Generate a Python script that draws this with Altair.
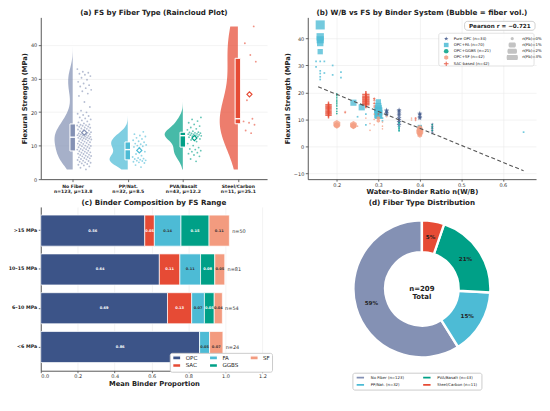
import json
import altair as alt
import pandas as pd

FONT = "DejaVu Sans"
DARK = "#222222"
AXC = "#444444"
GRID = "#ebebeb"

W_A, W_B = 228, 230
H_TOP, H_BOT = 163, 165

# ---------------- (a) raincloud data ----------------
fiber_types = ["No Fiber", "PP/Nat.", "PVA/Basalt", "Steel/Carbon"]
fiber_colors = ["#8491B4", "#4DBBD5", "#00A087", "#E64B35"]
fiber_n = [123, 32, 43, 11]
fiber_mu = [13.8, 8.5, 12.2, 25.1]

fs_no_fiber = [
    2.9, 3.4, 3.8, 4.1, 4.3, 4.5, 4.7, 4.9, 5.0, 5.2, 5.4, 5.5, 5.7, 5.9, 6.0, 6.2,
    6.3, 6.5, 6.6, 6.8, 6.9, 7.0, 7.2, 7.3, 7.5, 7.6, 7.8, 7.9, 8.0, 8.2, 8.3,
    8.5, 8.6, 8.8, 8.9, 9.0, 9.2, 9.3, 9.5, 9.6, 9.8, 9.9, 10.0, 10.2, 10.3, 10.5,
    10.6, 10.8, 10.9, 11.0, 11.2, 11.3, 11.5, 11.6, 11.8, 11.9, 12.0, 12.1, 12.2,
    12.3, 12.4, 12.5,
    12.6, 12.7, 12.8, 12.9, 13.0, 13.1, 13.2, 13.3, 13.4, 13.5, 13.6, 13.8, 13.9,
    14.0, 14.2, 14.3, 14.5, 14.6, 14.8, 15.0, 15.1, 15.3, 15.4, 15.6, 15.7, 15.9,
    16.0, 16.1, 16.2, 16.3,
    16.6, 16.9, 17.2, 17.5, 17.8, 18.1, 18.4, 18.8, 19.1, 19.5, 19.9, 20.4, 21.5,
    23.0, 24.8, 25.5, 26.2, 26.6, 27.1, 27.6, 28.0, 28.5, 29.0, 29.6, 30.2, 30.7,
    31.1, 31.4, 31.7, 32.0, 32.8,
]
fs_pp = [
    3.6, 4.2, 4.8, 5.0, 5.2, 5.4, 5.5, 5.6, 5.8, 6.0, 6.1, 6.3, 6.6, 7.0, 7.5, 8.2,
    9.4, 9.6, 9.8, 10.0, 10.2, 10.4, 10.6, 11.0, 11.3, 11.6, 12.0, 12.3, 12.7,
    13.0, 13.4, 14.1,
]
fs_pva = [
    5.3, 6.0, 6.8, 7.2, 7.6, 7.9, 8.2, 8.5, 8.8, 9.0,
    9.4, 10.0, 10.6, 11.2, 11.7, 12.0, 12.3, 12.5, 12.7, 12.8, 12.9,
    13.0, 13.1, 13.2, 13.3, 13.4, 13.5, 13.6, 13.7, 13.8, 13.9, 14.0,
    14.3, 14.7, 15.0, 15.4, 15.8, 16.3, 16.8, 17.3, 17.8, 18.4,
]
fs_steel = [13.7, 14.5, 16.2, 16.8, 17.2, 18.0, 23.5, 35.0, 37.0, 40.5, 45.5]

rows_a = []
for i, (name, vals) in enumerate(zip(fiber_types, [fs_no_fiber, fs_pp, fs_pva, fs_steel])):
    for v in vals:
        rows_a.append({"fiber": name, "pos": i, "fs": v})
df_a = pd.DataFrame(rows_a)

labels_a = [[t, f"n={n},  \u03bc={m}"] for t, n, m in zip(fiber_types, fiber_n, fiber_mu)]
label_expr_a = json.dumps(labels_a, ensure_ascii=False) + "[round(datum.value)]"

xs_a = alt.Scale(domain=[-0.58, 3.53], nice=False, zero=False)
axis_xa = alt.Axis(values=[0, 1, 2, 3], labelExpr=label_expr_a, grid=False,
                   labelFontWeight="bold", labelFontSize=4.6, labelColor=DARK,
                   labelLineHeight=5.8, labelPadding=1.5)
ys_a = alt.Scale(domain=[0, 48.2], nice=False, zero=False)
axis_ya = alt.Axis(values=[0, 10, 20, 30, 40], grid=True)
YT_A = "Flexural Strength (MPa)"


def xa(f):
    return alt.X(f"{f}:Q", scale=xs_a, axis=axis_xa, title=None)


def ya(f):
    return alt.Y(f"{f}:Q", scale=ys_a, axis=axis_ya, title=YT_A)


color_a = alt.Color("fiber:N", scale=alt.Scale(domain=fiber_types, range=fiber_colors), legend=None)
base_a = alt.Chart(df_a)

violin = base_a.transform_density(
    "fs", as_=["fs", "dens"], groupby=["fiber", "pos"], steps=120
).transform_joinaggregate(
    maxd="max(dens)", groupby=["fiber"]
).transform_calculate(
    xl="datum.pos - 0.33 * datum.dens / datum.maxd"
).mark_area(orient="horizontal", opacity=0.72).encode(
    y=ya("fs"), x=xa("xl"), x2="pos:Q", color=color_a, detail="fiber:N"
)

pts = base_a.transform_window(
    rn="row_number()", groupby=["fiber"]
).transform_calculate(
    jx="datum.pos + 0.08 + 0.26 * ((datum.rn * 0.618034) % 1)"
).mark_circle(size=3.5, opacity=0.6).encode(x=xa("jx"), y=ya("fs"), color=color_a)

stats = base_a.transform_aggregate(
    q1="q1(fs)", q3="q3(fs)", med="median(fs)", mean="mean(fs)", groupby=["fiber", "pos"]
).transform_calculate(
    bx1="datum.pos - 0.05", bx2="datum.pos + 0.05", mx="datum.pos + 0.21"
)
box = stats.mark_rect(stroke="white", strokeWidth=1).encode(
    x=xa("bx1"), x2="bx2:Q", y=ya("q1"), y2="q3:Q", color=color_a
)
med = stats.mark_rule(color="white", strokeWidth=1.4).encode(
    x=xa("bx1"), x2="bx2:Q", y=ya("med")
)
mean = stats.mark_point(shape="diamond", filled=False, fill="white", fillOpacity=1,
                        size=26, strokeWidth=1.2, opacity=1).encode(
    x=xa("mx"), y=ya("mean"), color=color_a
)

panel_a = alt.layer(violin, pts, box, med, mean).properties(
    width=W_A, height=H_TOP, title="(a) FS by Fiber Type  (Raincloud Plot)"
)

# ---------------- (b) scatter data ----------------
systems = ["Pure OPC", "OPC+FA", "OPC+GGBS", "OPC+SF", "SAC-based"]
system_n = [34, 70, 21, 42, 42]
system_colors = ["#3C5488", "#4DBBD5", "#00A087", "#F39B7F", "#E64B35"]
STAR = ("M0,-1L0.2245,-0.309L0.951,-0.309L0.363,0.118L0.588,0.809L0,0.382"
        "L-0.588,0.809L-0.363,0.118L-0.951,-0.309L-0.2245,-0.309Z")
HEX = "M0,-1L0.866,-0.5L0.866,0.5L0,1L-0.866,0.5L-0.866,-0.5Z"
PLUS = "M-1,-0.22H-0.22V-1H0.22V-0.22H1V0.22H0.22V1H-0.22V0.22H-1Z"
system_shapes = [STAR, "square", "circle", HEX, PLUS]

opc_wb = [0.32, 0.32, 0.32, 0.32, 0.35, 0.35, 0.35, 0.35, 0.35, 0.35, 0.35, 0.35,
          0.40, 0.40, 0.40, 0.40, 0.43, 0.43, 0.43, 0.43, 0.43]
opc_fs = [11.8, 12.4, 13.0, 13.4, 8.0, 9.0, 9.8, 10.5, 11.5, 12.2, 13.0, 13.5,
          10.5, 11.0, 11.8, 12.2, 5.0, 5.8, 6.6, 7.4, 8.2]
opc_vol = [0.8] * 12 + [0.8] * 4 + [0.3] * 5

fa_wb = [0.16, 0.16, 0.16, 0.16, 0.16,
         0.15, 0.15, 0.16, 0.16, 0.16, 0.16, 0.16, 0.17, 0.17, 0.19, 0.19, 0.21, 0.21,
         0.24, 0.26, 0.30, 0.30, 0.30, 0.30, 0.30, 0.30, 0.40,
         0.35, 0.35, 0.35, 0.35, 0.27, 0.27, 0.25, 0.31, 0.31, 0.65]
fa_fs = [45.0, 40.6, 39.5, 38.3, 35.1,
         31.5, 29.5, 31.5, 28.0, 27.0, 25.8, 24.8, 31.5, 27.2, 30.0, 26.5, 27.5, 25.5,
         16.2, 14.5, 16.5, 15.0, 14.0, 13.0, 12.0, 11.5, 7.2,
         6.0, 6.8, 7.5, 8.5, 8.0, 12.0, 11.0, 9.5, 10.5, 5.3]
fa_vol = [2.5, 1.6, 1.5, 1.2, 0.8,
          0, 0, 0, 0, 0, 0, 0, 0, 0, 0, 0, 0, 0,
          1.1, 1.1, 0.8, 1.1, 1.5, 2.0, 2.0, 1.5, 0.5,
          0, 0, 0, 0, 0, 0, 0, 0, 0, 0]

gg_wb = [0.20] * 10 + [0.35] * 4 + [0.43] * 3
gg_fs = [12.2, 13.0, 14.0, 15.0, 15.8, 16.5, 17.2, 18.0, 18.8, 19.5,
         5.8, 6.5, 7.2, 8.8, 6.0, 7.0, 8.0]
gg_vol = [0] * 17

sf_wb = [0.20, 0.20, 0.24, 0.24, 0.40, 0.40, 0.40,
         0.22, 0.25, 0.27, 0.28, 0.28, 0.29, 0.29, 0.29, 0.29, 0.29, 0.29,
         0.31, 0.31, 0.31, 0.38, 0.38, 0.32, 0.30, 0.30, 0.40, 0.40]
sf_fs = [8.3, 7.8, 8.0, 7.6, 5.5, 6.2, 4.8,
         12.5, 7.5, 10.5, 6.0, 8.5, 17.5, 16.0, 14.5, 12.0, 10.0, 8.0,
         9.0, 7.5, 6.5, 10.5, 9.8, 11.0, 9.5, 10.5, 4.2, 7.0]
sf_vol = [1.9, 1.3, 1.8, 1.2, 1.9, 1.4, 1.0,
          0, 0, 0, 0, 0, 0, 0, 0, 0, 0, 0,
          0, 0, 0, 0, 0, 0, 0.4, 0.4, 0.8, 0.8]

sac_wb = [0.18] * 9 + [0.27] * 8 + [0.29] * 4 + [0.22, 0.39, 0.39, 0.30]
sac_fs = [11.5, 12.0, 12.5, 13.0, 13.5, 14.0, 14.5, 15.0, 15.5,
          15.5, 16.0, 16.5, 17.0, 17.5, 18.0, 18.5, 19.2,
          15.0, 16.0, 17.0, 17.8, 12.8, 10.5, 9.8, 12.0]
sac_vol = [1.2] * 9 + [1.6] * 8 + [0.1] * 4 + [0.1, 0.1, 0.1, 0.1]

trend_wb = [0.155, 0.65]
trend_fs = [22.1, -9.0]
pearson_r = -0.721

rows_b = []
for name, wbs, fss, vols in zip(
    systems,
    [opc_wb, fa_wb, gg_wb, sf_wb, sac_wb],
    [opc_fs, fa_fs, gg_fs, sf_fs, sac_fs],
    [opc_vol, fa_vol, gg_vol, sf_vol, sac_vol],
):
    for w, f, v in zip(wbs, fss, vols):
        rows_b.append({"system": name, "wb": w, "fs": f, "vol": v})
df_b = pd.DataFrame(rows_b)
df_trend = pd.DataFrame({"wb": trend_wb, "fs": trend_fs})

xs_b = alt.Scale(domain=[0.13, 0.68], nice=False, zero=False)
ys_b = alt.Scale(domain=[-12.1, 47.8], nice=False, zero=False)
axis_xb = alt.Axis(values=[0.2, 0.3, 0.4, 0.5, 0.6], format=".1f", grid=True,
                   labelPadding=1, titlePadding=1.5, tickSize=2)
axis_yb = alt.Axis(values=[-10, 0, 10, 20, 30, 40], grid=True)
XT_B = "Water-to-Binder Ratio  n(W/B)"


def xb(f):
    return alt.X(f"{f}:Q", scale=xs_b, axis=axis_xb, title=XT_B)


def yb(f):
    return alt.Y(f"{f}:Q", scale=ys_b, axis=axis_yb, title=YT_A)


LX = W_B - 98
sys_labels = [f"{s}  (n={n})" for s, n in zip(systems, system_n)]
sys_expr = (json.dumps(sys_labels) + "[indexof(" + json.dumps(systems) + ", datum.label)]")
leg_sys = alt.Legend(title=None, orient="none", legendX=LX + 4, legendY=19, labelExpr=sys_expr,
                     labelFontSize=3.9, symbolSize=22, rowPadding=1.3, clipHeight=5,
                     symbolOpacity=0.85, labelColor=DARK, labelLimit=200, padding=0,
                     labelOffset=4)
leg_size = alt.Legend(title=None, orient="none", legendX=LX + 68, legendY=19, values=[0, 1, 2, 3],
                      labelExpr="'n(Fb)=' + datum.value + '%'", symbolType="circle",
                      symbolFillColor="#b5b5b5", symbolStrokeColor="#b5b5b5",
                      symbolOpacity=0.8, labelFontSize=3.9, rowPadding=1.3, clipHeight=5,
                      labelColor=DARK, padding=0, labelOffset=4)

pts_b = alt.Chart(df_b).mark_point(filled=True, opacity=0.78).encode(
    x=xb("wb"), y=yb("fs"),
    color=alt.Color("system:N", scale=alt.Scale(domain=systems, range=system_colors), legend=leg_sys),
    shape=alt.Shape("system:N", scale=alt.Scale(domain=systems, range=system_shapes), legend=leg_sys),
    size=alt.Size("vol:Q", scale=alt.Scale(domain=[0, 3], range=[3, 100]), legend=leg_size),
)
trend = alt.Chart(df_trend).mark_line(color="#555555", strokeDash=[4, 2.5], strokeWidth=1.1).encode(
    x=xb("wb"), y=yb("fs")
)
one = pd.DataFrame({"k": [0]})
leg_box = alt.Chart(one).mark_rect(fill="white", stroke="#cccccc", strokeWidth=0.6,
                                   cornerRadius=2, opacity=0.92).encode(
    x=alt.value(LX), x2=alt.value(W_B - 2), y=alt.value(16), y2=alt.value(49)
)
r_box = alt.Chart(one).mark_rect(fill="white", stroke="#bbbbbb", strokeWidth=0.7,
                                 cornerRadius=3).encode(
    x=alt.value(W_B - 72), x2=alt.value(W_B - 1), y=alt.value(4), y2=alt.value(13)
)
r_text = alt.Chart(one).transform_calculate(
    t=f"'Pearson  r = ' + '\u2212' + '{abs(pearson_r):.3f}'"
).mark_text(fontSize=5.7, fontWeight="bold", color=DARK).encode(
    x=alt.value(W_B - 36.5), y=alt.value(8.7), text="t:N"
)

panel_b = alt.layer(pts_b, trend, leg_box, r_box, r_text).properties(
    width=W_B, height=H_TOP, title="(b) W/B vs FS by Binder System  (Bubble = fiber vol.)"
)

# ---------------- (c) stacked bar data ----------------
fs_ranges = [">15 MPa", "10\u201315 MPa", "6\u201310 MPa", "<6 MPa"]
range_n = [50, 81, 54, 24]
components = ["OPC", "SAC", "FA", "GGBS", "SF"]
comp_colors = ["#3C5488", "#E64B35", "#4DBBD5", "#00A087", "#F39B7F"]
opc_p = [0.563, 0.642, 0.686, 0.860]
sac_p = [0.052, 0.111, 0.131, 0.0]
fa_p = [0.144, 0.112, 0.069, 0.054]
ggbs_p = [0.152, 0.077, 0.053, 0.0]
sf_p = [0.110, 0.054, 0.044, 0.072]

rows_c = []
for k, comp, vals in zip(range(5), components, [opc_p, sac_p, fa_p, ggbs_p, sf_p]):
    for r, n, v in zip(fs_ranges, range_n, vals):
        rows_c.append({"range": r, "n": n, "comp": comp, "ord": k, "value": v})
df_c = pd.DataFrame(rows_c)

yc = alt.Y("range:N", sort=fs_ranges, title=None,
           scale=alt.Scale(paddingInner=0.2, paddingOuter=0.21),
           axis=alt.Axis(labelFontWeight="bold", labelFontSize=4.8, labelColor=DARK))
xs_c = alt.Scale(domain=[0, 1.225], nice=False, zero=False)
axis_xc = alt.Axis(values=[0, 0.2, 0.4, 0.6, 0.8, 1.0, 1.2], format=".1f", grid=True,
                   labelPadding=1, titlePadding=1.5, tickSize=2)
XT_C = "Mean Binder Proportion"
leg_c = alt.Legend(title=None, orient="none", legendX=W_A - 98, legendY=H_BOT - 18, columns=3,
                   symbolType="M-1,-0.5L1,-0.5L1,0.5L-1,0.5Z", symbolSize=70,
                   labelFontSize=5.6, labelColor=DARK, fillColor="white", strokeColor="#cccccc",
                   padding=2, cornerRadius=2, columnPadding=11, rowPadding=1,
                   clipHeight=5.5, symbolOpacity=1)

stacked = alt.Chart(df_c).transform_stack(
    stack="value", groupby=["range"], as_=["x0", "x1"], sort=[alt.SortField("ord")]
)
bars = stacked.mark_bar(stroke="white", strokeWidth=0.7).encode(
    y=yc, x=alt.X("x0:Q", scale=xs_c, axis=axis_xc, title=XT_C), x2="x1:Q",
    color=alt.Color("comp:N", scale=alt.Scale(domain=components, range=comp_colors),
                    legend=leg_c),
)
seg_text = stacked.transform_filter("datum.value > 0").transform_calculate(
    mid="(datum.x0 + datum.x1) / 2"
).mark_text(fontSize=3.6, fontWeight="bold").encode(
    y=yc, x=alt.X("mid:Q", scale=xs_c, axis=axis_xc, title=XT_C),
    text=alt.Text("value:Q", format=".2f"),
    color=alt.condition("datum.comp == 'FA' || datum.comp == 'SF'",
                        alt.value("#333333"), alt.value("white")),
)
n_text = alt.Chart(df_c).transform_aggregate(
    total="sum(value)", groupby=["range", "n"]
).transform_calculate(
    lx="datum.total + 0.015", lab="'n=' + datum.n"
).mark_text(align="left", fontSize=5, color="#333333").encode(
    y=yc, x=alt.X("lx:Q", scale=xs_c, axis=axis_xc, title=XT_C), text="lab:N"
)

panel_c = alt.layer(bars, seg_text, n_text).properties(
    width=W_A, height=H_BOT, title="(c) Binder Composition by FS Range"
)

# ---------------- (d) donut data ----------------
pie_order = [3, 2, 1, 0]  # drawing order clockwise from 12 o'clock
df_d = pd.DataFrame({"fiber": fiber_types, "count": fiber_n, "ord": pie_order})
d_labels = [f"{t}  (n={n})" for t, n in zip(fiber_types, fiber_n)]
d_expr = json.dumps(d_labels) + "[indexof(" + json.dumps(fiber_types) + ", datum.label)]"
leg_d = alt.Legend(title=None, orient="none", legendX=W_B / 2 - 70, legendY=H_BOT + 2, columns=2,
                   symbolType="M-1,-0.38L1,-0.38L1,0.38L-1,0.38Z", symbolSize=80,
                   labelExpr=d_expr, labelFontSize=3.9, labelColor=DARK, fillColor="white",
                   strokeColor="#cccccc", padding=2.5, cornerRadius=2, columnPadding=16,
                   rowPadding=2.5, clipHeight=4.5, labelLimit=200, labelOffset=5)

base_d = alt.Chart(df_d)
theta_d = alt.Theta("count:Q", stack=True)
arcs = base_d.mark_arc(innerRadius=37, outerRadius=69, stroke="white", strokeWidth=2.4).encode(
    theta=theta_d, order=alt.Order("ord:Q"),
    color=alt.Color("fiber:N", scale=alt.Scale(domain=fiber_types, range=fiber_colors),
                    legend=leg_d),
)
pct = base_d.transform_joinaggregate(total="sum(count)").transform_calculate(
    pct="format(datum.count / datum.total, '.0%')"
).mark_text(radius=53, fontSize=5.6, fontWeight="bold", color=DARK).encode(
    theta=theta_d, order=alt.Order("ord:Q"), text="pct:N"
)
center = base_d.transform_aggregate(total="sum(count)").transform_calculate(
    lab="'n=' + datum.total + '\\nTotal'"
).mark_text(fontSize=7, fontWeight="bold", color=DARK, lineBreak="\n", lineHeight=8).encode(
    text="lab:N"
)

panel_d = alt.layer(arcs, pct, center).properties(
    width=W_B, height=H_BOT, title="(d) Fiber Type Distribution"
)

chart = alt.concat(
    panel_a, panel_b, panel_c, panel_d, columns=2,
    spacing={"row": 28, "column": 41}, bounds="flush",
).resolve_scale(
    color="independent", shape="independent", size="independent"
).properties(
    padding={"left": 0, "top": -1, "right": 0, "bottom": 0}
).configure(font=FONT).configure_view(stroke=None).configure_axis(
    labelFont=FONT, titleFont=FONT, labelFontSize=5, labelColor="#333333",
    titleFontSize=6.8, titleFontWeight="bold", titleColor=DARK,
    domainColor=AXC, domainWidth=0.9, tickColor=AXC, tickSize=2.5, tickWidth=0.8,
    gridColor=GRID, gridWidth=0.6, labelPadding=1.5, titlePadding=2.5,
).configure_title(
    font=FONT, fontSize=7.2, fontWeight="bold", color=DARK, offset=1, anchor="middle"
).configure_legend(labelFont=FONT)

chart.save("out.html", embed_options={"renderer": "svg", "actions": False})
